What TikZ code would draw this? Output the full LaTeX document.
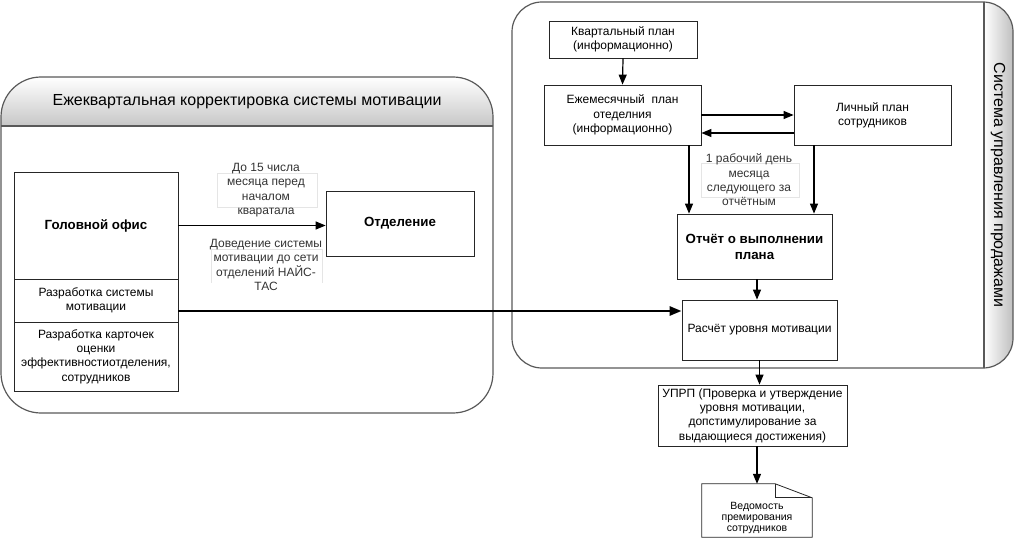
\documentclass[tikz,border=0pt]{standalone}
\usepackage{fontspec}
\setmainfont{Liberation Sans}
\usetikzlibrary{arrows.meta, calc}
\tikzset{
  box/.style={draw=black!85, line width=0.8pt, align=center, inner sep=1pt, font=\fontsize{12}{14.4}\selectfont},
  lbl/.style={align=center, inner sep=0pt, text=black!80, font=\fontsize{12}{14.4}\selectfont},
  faint/.style={draw=black!10, line width=0.6pt},
  big/.style={font=\fontsize{16}{18}\selectfont},
  bold/.style={font=\fontsize{13.3}{16}\selectfont\bfseries},
  flow/.style={-{Triangle[length=10pt,width=8pt]}, line width=1.2pt},
  wide/.style={-{Triangle[length=12pt,width=9pt]}, line width=2.6pt},
  frame/.style={draw=black!65, line width=1.2pt}
}
\begin{document}
\begin{tikzpicture}[x=1pt,y=-1pt]
\useasboundingbox (0,0) rectangle (1017,540);
% left container
\begin{scope}
\clip[rounded corners=40pt] (1,77) rectangle (493,413);
\shade[top color=white, bottom color=black!22] (1,77) rectangle (493,126);
\end{scope}
\draw[frame, rounded corners=40pt] (1,77) rectangle (493,413);
\draw[frame] (1,126) -- (493,126);
\node[big] (ttl) at (247,102) {Ежеквартальная корректировка системы мотивации};
% right container
\begin{scope}
\clip[rounded corners=30pt] (512,2) rectangle (1013,368);
\shade[left color=white, right color=black!25] (984,2) rectangle (1013,368);
\end{scope}
\draw[frame, rounded corners=30pt] (512,2) rectangle (1013,368);
\draw[frame] (984,2) -- (984,368);
\node[big, rotate=-90] (sys) at (998,185) {Система управления продажами};
%
\node[box, bold, minimum width=164pt, minimum height=107pt] (hq) at (96,225.5) {Головной офис};
\node[box, minimum width=164pt, minimum height=43pt] (dev) at (96,300.5) {Разработка системы\\мотивации};
\node[box, minimum width=164pt, minimum height=69pt] (cards) at (96,356.5) {Разработка карточек\\оценки\\эффективностиотделения,\\сотрудников};
\node[box, bold, minimum width=148pt, minimum height=65pt] (branch) at (400,223.5) {Отделение};
%
\draw[faint] (217,173) rectangle (317,207);
\node[lbl] (n1) at (266,190) {До 15 числа\\месяца перед\\началом\\кваратала};
\draw[faint] (211,283) -- (211,249) -- (322,249) -- (322,283);
\node[lbl] (n2) at (266,265) {Доведение системы\\мотивации до сети\\отделений НАЙС-\\ТАС};
%
\node[box, minimum width=148pt, minimum height=37pt] (quarter) at (623,39.5) {Квартальный план\\(информационно)};
\node[box, minimum width=157pt, minimum height=60pt] (month) at (622.5,115) {Ежемесячный~~план\\отеделния\\(информационно)};
\node[box, minimum width=157pt, minimum height=60pt] (pers) at (872.5,115) {Личный план\\сотрудников};
\node[box, bold, font=\fontsize{13.3}{16}\selectfont\bfseries, minimum width=155pt, minimum height=65pt] (report) at (754.5,246.5) {Отчёт о выполнении\\плана};
\node[box, minimum width=155pt, minimum height=60pt] (calc) at (759.5,330) {Расчёт уровня мотивации};
\node[box, minimum width=189pt, minimum height=61pt] (uprp) at (752.5,415.5) {УПРП (Проверка и утверждение\\уровня мотивации,\\допстимулирование за\\выдающиеся достижения)};
\node[minimum width=110pt, minimum height=53pt, inner sep=0pt] (doc) at (757,510.5) {};
\node[lbl, text=black, font=\fontsize{10.5}{10.8}\selectfont] (doctxt) at (757,518) {Ведомость\\премирования\\сотрудников};
\draw[faint] (701,163) rectangle (799,197);
\node[lbl] (n3) at (749,180) {1 рабочий день\\месяца\\следующего за\\отчётным};
% document shape
\draw[box] (doc.north west) -- ($(doc.north east)+(-37,0)$) -- ($(doc.north east)+(0,14)$) -- (doc.south east) -- (doc.south west) -- cycle;
\draw[box] ($(doc.north east)+(-37,0)$) -- ($(doc.north east)+(-37,14)$) -- ($(doc.north east)+(0,14)$);
%
\draw[flow] (hq.east) -- (hq.east -| branch.west);
\draw[wide] (dev.east) ++(0,10.5) coordinate (d0) -- (d0 -| calc.west);
\draw[flow] (quarter.south) -- (month.north);
\draw[flow] (month.east) -- (pers.west);
\draw[flow] ($(pers.west)+(0,18)$) coordinate (p0) -- (p0 -| month.east);
\draw[flow] ($(month.south)+(66.5,0)$) coordinate (m0) -- (m0 |- report.north);
\draw[flow] ($(pers.south)+(-58.5,0)$) coordinate (p1) -- (p1 |- report.north);
\draw[flow] ($(report.south)+(2.5,0)$) coordinate (r0) -- (r0 |- calc.north);
\draw[flow] (calc.south) -- (calc.south |- uprp.north);
\draw[flow] ($(uprp.south)+(4.5,0)$) coordinate (u0) -- (u0 |- doc.north);
\end{tikzpicture}
\end{document}
